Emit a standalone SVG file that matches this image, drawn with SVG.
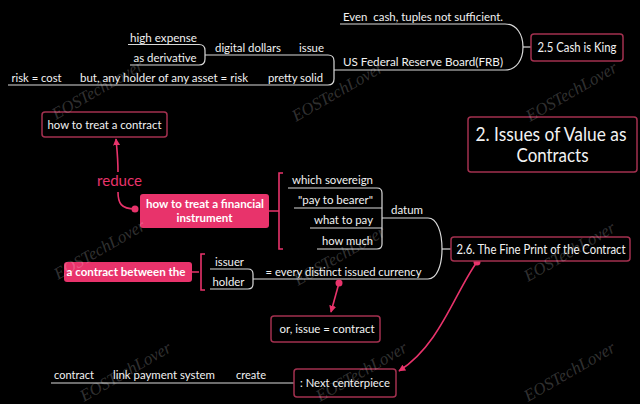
<svg xmlns="http://www.w3.org/2000/svg" width="640" height="404" viewBox="0 0 640 404">
<defs>
<style>
.t{font-family:Lato,"Open Sans","DejaVu Sans",sans-serif;font-size:11.5px;fill:#f2f2f2;white-space:pre}
.b{font-weight:bold;fill:#fff}
.m{text-anchor:middle}
.e{text-anchor:end}
.wm{font-family:"Liberation Serif",serif;font-size:17px;fill:#ffffff;fill-opacity:0.2;font-style:italic}
.ln{fill:none;stroke:#d9d9d9;stroke-width:1.2}
.box{fill:#000;stroke:#a3304f;stroke-width:1.5}
.pk{fill:none;stroke:#e8336b;stroke-width:1.6}
.pf{fill:#e8336b;stroke:none}
</style>
<marker id="ah" viewBox="0 0 10 10" refX="9" refY="5" markerWidth="7" markerHeight="7" orient="auto-start-reverse" markerUnits="userSpaceOnUse">
<path d="M0,0 L10,5 L0,10 Z" fill="#e8336b"/>
</marker>
</defs>
<rect width="640" height="404" fill="#000"/>
<g id="connectors">
<path class="ln" d="M340,24 H505 C517,24 523,35 523,47 C523,59 517,70 505,70 H334"/>
<path class="ln" d="M523,47 H531"/>
<path class="ln" d="M205,55 H328 Q334,55 334,61 V79 Q334,85 328,85 H8"/>
<path class="ln" d="M128,44.5 H199 Q205,44.5 205,50.5 V59 Q205,65 199,65 H130"/>
<path class="ln" d="M288,188 H377 Q382,188 382,193 V244 Q382,249 377,249 H317"/>
<path class="ln" d="M294,208 H382 M310,228 H382"/>
<path class="ln" d="M382,218 H428 C437,218 442,232 442,249 C442,265 437,279 428,279 H253"/>
<path class="ln" d="M442,249 H451"/>
<path class="ln" d="M210,269 H248 Q253,269 253,274 V284 Q253,289 248,289 H210"/>
<path class="ln" d="M51,383 H294"/>
<path class="pk" d="M269,211 H279 M283,173 H279 V249 H283"/>
<path class="pk" d="M192,272 H199 M205,254 H201 V290 H205"/>
<path class="pk" d="M135,209 C121,209 118,203 118,192"/>
<path class="pk" d="M118,172 C118,158 117,150 116,139" marker-end="url(#ah)"/>
<circle class="pf" cx="135" cy="209" r="3.5"/>
<path class="pk" d="M339,283 L331,312" marker-end="url(#ah)"/>
<circle class="pf" cx="339" cy="283" r="3.5"/>
<path class="pk" d="M477,262 C455,292 440,345 399,371" marker-end="url(#ah)"/>
<circle class="pf" cx="477" cy="262" r="3.5"/>
</g>
<g id="n-even"><text class="t" x="343" y="21" textLength="160" lengthAdjust="spacingAndGlyphs">Even  cash, tuples not sufficient.</text></g>
<g id="n-frb"><text class="t" x="343" y="66" textLength="160" lengthAdjust="spacingAndGlyphs">US Federal Reserve Board(FRB)</text></g>
<g id="n-cash"><rect class="box" x="531" y="34" width="92" height="27" rx="3"/><text class="t m" x="577" y="52" textLength="79" lengthAdjust="spacingAndGlyphs" style="font-size:12.5px">2.5 Cash is King</text></g>
<g id="n-high"><text class="t" x="130" y="41.5" textLength="67" lengthAdjust="spacingAndGlyphs">high expense</text></g>
<g id="n-deriv"><text class="t" x="133.5" y="62" textLength="63" lengthAdjust="spacingAndGlyphs">as derivative</text></g>
<g id="n-digital"><text class="t" x="215" y="51.5" textLength="66" lengthAdjust="spacingAndGlyphs">digital dollars</text></g>
<g id="n-issue"><text class="t" x="299" y="51.5" textLength="25" lengthAdjust="spacingAndGlyphs">issue</text></g>
<g id="n-risk"><text class="t" x="11.5" y="82" textLength="50" lengthAdjust="spacingAndGlyphs">risk = cost</text></g>
<g id="n-but"><text class="t" x="80" y="82" textLength="168" lengthAdjust="spacingAndGlyphs">but, any holder of any asset = risk</text></g>
<g id="n-solid"><text class="t" x="268" y="82" textLength="55" lengthAdjust="spacingAndGlyphs">pretty solid</text></g>
<g id="n-treat-contract"><rect class="box" x="42" y="112" width="125" height="25" rx="3"/><text class="t m" x="104.5" y="128.5" textLength="114" lengthAdjust="spacingAndGlyphs" style="font-size:12px">how to treat a contract</text></g>
<g id="n-title"><rect class="box" x="468" y="117" width="169" height="55" rx="3"/><text class="t m" x="551" y="140.5" textLength="151" lengthAdjust="spacingAndGlyphs" style="font-size:18.5px">2. Issues of Value as</text><text class="t m" x="552.5" y="162" textLength="72" lengthAdjust="spacingAndGlyphs" style="font-size:18.5px">Contracts</text></g>
<g id="l-reduce"><text class="t" x="97" y="186" textLength="45" lengthAdjust="spacingAndGlyphs" style="font-size:15px;fill:#e8336b">reduce</text></g>
<g id="n-fin"><rect class="pf" x="140" y="194" width="129" height="34" rx="3"/><text class="t b m" x="205" y="208" textLength="118" lengthAdjust="spacingAndGlyphs" style="font-size:12px">how to treat a financial</text><text class="t b m" x="204.5" y="222" textLength="56" lengthAdjust="spacingAndGlyphs" style="font-size:12px">instrument</text></g>
<g id="n-sov"><text class="t e" x="373" y="184" textLength="81" lengthAdjust="spacingAndGlyphs">which sovereign</text></g>
<g id="n-bearer"><text class="t e" x="373" y="204" textLength="75" lengthAdjust="spacingAndGlyphs">"pay to bearer"</text></g>
<g id="n-what"><text class="t e" x="373" y="224" textLength="59" lengthAdjust="spacingAndGlyphs">what to pay</text></g>
<g id="n-much"><text class="t e" x="373" y="244.5" textLength="51" lengthAdjust="spacingAndGlyphs">how much</text></g>
<g id="n-datum"><text class="t" x="391" y="214" textLength="32" lengthAdjust="spacingAndGlyphs">datum</text></g>
<g id="n-fine"><rect class="box" x="451" y="237" width="179" height="24" rx="3"/><text class="t m" x="541" y="253.5" textLength="169" lengthAdjust="spacingAndGlyphs" style="font-size:12.5px">2.6. The Fine Print of the Contract</text></g>
<g id="n-between"><rect class="pf" x="64" y="262" width="128" height="20" rx="3"/><text class="t b m" x="126" y="276" textLength="119" lengthAdjust="spacingAndGlyphs" style="font-size:12px">a contract between the</text></g>
<g id="n-issuer"><text class="t m" x="229.5" y="266" textLength="29" lengthAdjust="spacingAndGlyphs">issuer</text></g>
<g id="n-holder"><text class="t m" x="228.5" y="286" textLength="32" lengthAdjust="spacingAndGlyphs">holder</text></g>
<g id="n-currency"><text class="t" x="265.5" y="275.5" textLength="156" lengthAdjust="spacingAndGlyphs">= every distinct issued currency</text></g>
<g id="n-or"><rect class="box" x="271" y="316" width="109" height="26" rx="3"/><text class="t m" x="327" y="333" textLength="95" lengthAdjust="spacingAndGlyphs" style="font-size:12px">or, issue = contract</text></g>
<g id="n-next"><rect class="box" x="294" y="369" width="102" height="28" rx="3"/><text class="t m" x="345" y="387" textLength="90" lengthAdjust="spacingAndGlyphs" style="font-size:12px">: Next centerpiece</text></g>
<g id="n-contract"><text class="t" x="54" y="378.5" textLength="40" lengthAdjust="spacingAndGlyphs">contract</text></g>
<g id="n-link"><text class="t" x="113" y="378.5" textLength="102" lengthAdjust="spacingAndGlyphs">link payment system</text></g>
<g id="n-create"><text class="t" x="236" y="378.5" textLength="30" lengthAdjust="spacingAndGlyphs">create</text></g>
<g id="watermarks">
<text class="wm" transform="translate(56,120) rotate(-30)">EOSTechLover</text>
<text class="wm" transform="translate(296,122) rotate(-30)">EOSTechLover</text>
<text class="wm" transform="translate(530,122) rotate(-30)">EOSTechLover</text>
<text class="wm" transform="translate(58,280) rotate(-30)">EOSTechLover</text>
<text class="wm" transform="translate(298,286) rotate(-30)">EOSTechLover</text>
<text class="wm" transform="translate(528,282) rotate(-30)">EOSTechLover</text>
<text class="wm" transform="translate(84,402) rotate(-30)">EOSTechLover</text>
<text class="wm" transform="translate(320,402) rotate(-30)">EOSTechLover</text>
<text class="wm" transform="translate(528,402) rotate(-30)">EOSTechLover</text>
</g>
</svg>
